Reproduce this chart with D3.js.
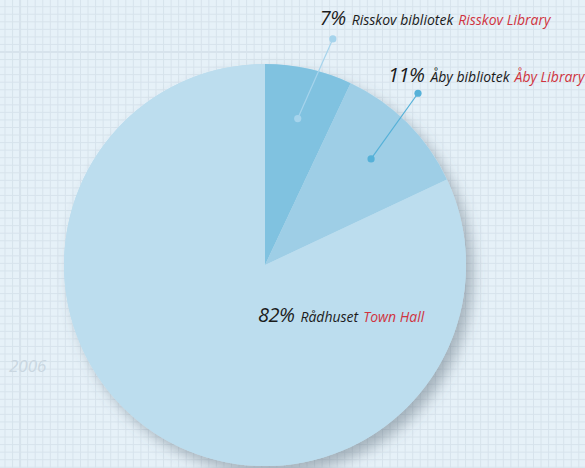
<!DOCTYPE html>
<html>
<head>
<meta charset="utf-8">
<script src="https://cdn.jsdelivr.net/npm/d3@7"></script>
<style>
  html, body { margin: 0; padding: 0; background: #e6f1f8; overflow: hidden; }
  svg { display: block; }
</style>
</head>
<body>
<svg></svg>
<script>
// values
var percents = [7, 11, 82];
var namesDa = ["Risskov bibliotek", "Åby bibliotek", "Rådhuset"];
var namesEn = ["Risskov Library", "Åby Library", "Town Hall"];
var yearLabel = "2006";

var width = 585;
var height = 468;

// layout only (where the labels sit)
var sliceColors = ["#80c2e0", "#9ecee6", "#bcddee"];
var dotColors = ["#a6d4ec", "#56b1d8", null];
var outerDot = [{r: 236, a: 16.7}, {r: 230, a: 41.7}, null];
var textShift = [{dx: -13, dy: -14}, {dx: -30, dy: -11}, {dx: 0, dy: 0}];

var svg = d3.select("svg")
    .attr("width", width)
    .attr("height", height)
    .attr("viewBox", [0, 0, width, height]);

// grid paper background
var cell = 7.55;
var grid = svg.append("g").attr("stroke", "#d7e3ec").attr("stroke-width", 1);
grid.selectAll("line.v")
  .data(d3.range(5, width, cell))
  .join("line")
    .attr("class", "v")
    .attr("x1", d => d).attr("x2", d => d)
    .attr("y1", 0).attr("y2", height);
grid.selectAll("line.h")
  .data(d3.range(6.7, height, cell))
  .join("line")
    .attr("class", "h")
    .attr("y1", d => d).attr("y2", d => d)
    .attr("x1", 0).attr("x2", width);
grid.append("line").attr("x1", 5 + 2 * cell).attr("x2", 5 + 2 * cell)
    .attr("y1", 0).attr("y2", height).attr("stroke-width", 2);
grid.append("line").attr("y1", 6.7 + 6 * cell).attr("y2", 6.7 + 6 * cell)
    .attr("x1", 0).attr("x2", width).attr("stroke-width", 2);

svg.append("text")
    .attr("x", 9)
    .attr("y", 372)
    .attr("font-family", "Open Sans, sans-serif")
    .attr("font-style", "italic")
    .attr("font-size", 17)
    .attr("fill", "#cad7e1")
    .text(yearLabel);

var defs = svg.append("defs");
var f = defs.append("filter").attr("id", "shadow")
    .attr("x", "-20%").attr("y", "-20%").attr("width", "140%").attr("height", "140%");
f.append("feDropShadow")
    .attr("dx", 7).attr("dy", 8)
    .attr("stdDeviation", 7)
    .attr("flood-color", "#4f5f6b")
    .attr("flood-opacity", 0.42);

var cx = 265, cy = 265, radius = 201;

var pie = d3.pie().sort(null).value(d => d);
var arcs = pie(percents);
var arc = d3.arc().innerRadius(0).outerRadius(radius);
var inner = d3.arc().innerRadius(150).outerRadius(150);

var g = svg.append("g").attr("transform", `translate(${cx},${cy})`);

g.append("circle")
    .attr("r", radius)
    .attr("fill", sliceColors[2])
    .attr("filter", "url(#shadow)");

g.selectAll("path.slice")
  .data(arcs)
  .join("path")
    .attr("class", "slice")
    .attr("d", arc)
    .attr("fill", (d, i) => sliceColors[i]);

function polar(r, a) {
  var t = a * Math.PI / 180;
  return [r * Math.sin(t), -r * Math.cos(t)];
}

var leaders = arcs.slice(0, 2);
leaders.forEach(function(d, i) {
  var p0 = inner.centroid(d);
  var p1 = polar(outerDot[i].r, outerDot[i].a);
  g.append("line")
      .attr("x1", p0[0]).attr("y1", p0[1])
      .attr("x2", p1[0]).attr("y2", p1[1])
      .attr("stroke", dotColors[i])
      .attr("stroke-width", 1.2);
  g.append("circle").attr("cx", p0[0]).attr("cy", p0[1]).attr("r", 3.6)
      .attr("fill", dotColors[i]);
  g.append("circle").attr("cx", p1[0]).attr("cy", p1[1]).attr("r", 3.6)
      .attr("fill", dotColors[i]);
});

function label(x, y, i) {
  var t = svg.append("text")
      .attr("x", x)
      .attr("y", y)
      .attr("font-family", "Open Sans, sans-serif")
      .attr("font-style", "italic")
      .attr("fill", "#1b1b1b");
  t.append("tspan").attr("font-size", 20).attr("letter-spacing", -0.5)
      .text(percents[i] + "%");
  t.append("tspan").attr("font-size", 14).attr("dx", 6).text(namesDa[i]);
  t.append("tspan").attr("font-size", 14).attr("dx", 5)
      .attr("fill", "#d0343f").text(namesEn[i]);
}

leaders.forEach(function(d, i) {
  var p1 = polar(outerDot[i].r, outerDot[i].a);
  label(cx + p1[0] + textShift[i].dx, cy + p1[1] + textShift[i].dy, i);
});
// big slice label sits inside the slice, just below the centre
label(258, 322, 2);
</script>
</body>
</html>
